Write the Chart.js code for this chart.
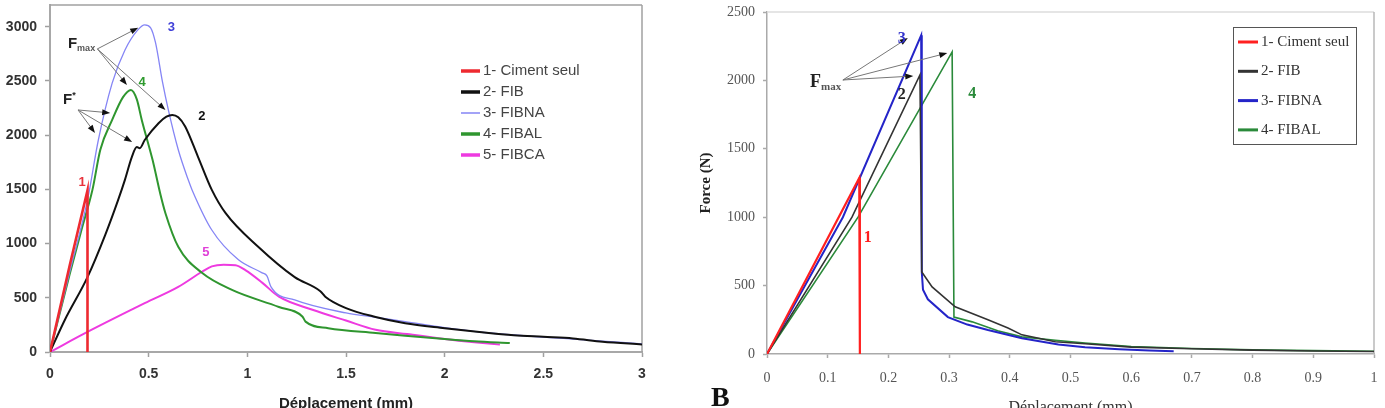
<!DOCTYPE html>
<html lang="fr">
<head>
<meta charset="UTF-8">
<title>Force - Déplacement</title>
<script src="https://cdn.jsdelivr.net/npm/chart.js"></script>
<style>
    body {
        margin: 0;
        width: 1385px;
        height: 408px;
        overflow: hidden;
        background: #fff;
        position: relative;
    }
    #gauche { position: absolute; left: 0; top: 0; width: 690px; height: 413px; }
    #droite { position: absolute; left: 690px; top: 0; width: 695px; height: 417px; }
    #lettreB {
        position: absolute; left: 711px; top: 383px;
        font: bold 28px "Liberation Serif", serif; line-height: 28px; color: #111;
    }
</style>
</head>
<body>

<div id="gauche"><canvas id="graphA"></canvas></div>
<div id="droite"><canvas id="graphB"></canvas></div>
<div id="lettreB">B</div>

<script>
// ---- Graphique de gauche (0 - 3 mm) ----
const gXTicks = [0, 0.5, 1, 1.5, 2, 2.5, 3];
const gYTicks = [0, 500, 1000, 1500, 2000, 2500, 3000];
const gNoms = ['1- Ciment seul', '2- FIB', '3- FIBNA', '4- FIBAL', '5- FIBCA'];

const cimentX = [0, 0.1, 0.19, 0.19];
const cimentY = [0, 800, 1490, 0];

const fibX = [0, 0.075, 0.19, 0.28, 0.345, 0.38, 0.415, 0.44, 0.455, 0.48, 0.55, 0.59, 0.62, 0.65, 0.685, 0.75, 0.82, 0.89, 1.055, 1.24, 1.37, 1.395, 1.5, 1.65, 1.8, 2.0, 2.2, 2.35, 2.5, 2.65, 2.8, 3.0];
const fibY = [0, 295, 690, 1080, 1400, 1590, 1800, 1890, 1880, 1955, 2110, 2170, 2186, 2165, 2080, 1800, 1495, 1280, 970, 690, 560, 510, 405, 323, 265, 220, 180, 155, 140, 125, 95, 70];

const fibnaX = [0, 0.1, 0.19, 0.245, 0.315, 0.38, 0.445, 0.48, 0.51, 0.535, 0.57, 0.6, 0.65, 0.7, 0.72, 0.82, 0.955, 1.075, 1.1, 1.12, 1.24, 1.5, 1.65, 1.8, 2.0, 2.2, 2.4, 2.6, 2.8, 3.0];
const fibnaY = [0, 740, 1400, 1955, 2480, 2785, 2970, 3017, 2990, 2850, 2490, 2230, 1865, 1590, 1495, 1125, 850, 730, 700, 600, 480, 360, 320, 280, 225, 180, 150, 125, 100, 75];

const fibalX = [0, 0.1, 0.16, 0.215, 0.255, 0.315, 0.37, 0.41, 0.44, 0.465, 0.52, 0.56, 0.585, 0.65, 0.77, 0.925, 1.16, 1.28, 1.295, 1.41, 1.65, 1.8, 2.0, 2.15, 2.33];
const fibalY = [0, 720, 1130, 1495, 1865, 2140, 2350, 2417, 2330, 2140, 1770, 1450, 1280, 970, 730, 570, 415, 325, 280, 220, 175, 150, 120, 100, 83];

const fibcaX = [0, 0.19, 0.48, 0.65, 0.77, 0.82, 0.88, 0.94, 0.99, 1.075, 1.16, 1.33, 1.5, 1.65, 1.81, 2.0, 2.15, 2.28];
const fibcaY = [0, 185, 450, 600, 740, 790, 805, 800, 755, 640, 510, 390, 290, 205, 165, 120, 90, 68];

// ---- Graphique de droite (0 - 1 mm) ----
const dXTicks = [0, 0.1, 0.2, 0.3, 0.4, 0.5, 0.6, 0.7, 0.8, 0.9, 1];
const dYTicks = [0, 500, 1000, 1500, 2000, 2500];
const dNoms = ['1- Ciment seul', '2- FIB', '3- FIBNA', '4- FIBAL'];

const cimentBX = [0, 0.152, 0.153];
const cimentBY = [0, 1287, 0];

const fibBX = [0, 0.14, 0.252, 0.255, 0.272, 0.31, 0.364, 0.397, 0.42, 0.475, 0.524, 0.6, 0.7, 0.8, 0.9, 1.0];
const fibBY = [0, 1000, 2040, 600, 490, 345, 250, 190, 140, 90, 75, 50, 38, 28, 22, 18];

const fibnaBX = [0, 0.125, 0.254, 0.255, 0.257, 0.265, 0.298, 0.33, 0.364, 0.42, 0.48, 0.524, 0.58, 0.63, 0.67];
const fibnaBY = [0, 1000, 2330, 600, 470, 400, 270, 215, 175, 115, 70, 50, 35, 25, 20];

const fibalBX = [0, 0.15, 0.305, 0.308, 0.338, 0.38, 0.42, 0.475, 0.524, 0.6, 0.7, 0.8, 0.9, 1.0];
const fibalBY = [0, 1000, 2208, 270, 235, 170, 125, 100, 80, 55, 40, 30, 25, 20];

// ---- Annotations (coordonnées en unités du graphique) ----
const gEtiquettes = [
    { t: '1', x: 0.163, y: 1560, c: '#e8323c' },
    { t: '2', x: 0.77, y: 2170, c: '#111' },
    { t: '3', x: 0.615, y: 2990, c: '#4040d8' },
    { t: '4', x: 0.467, y: 2490, c: '#2e9a2e' },
    { t: '5', x: 0.79, y: 920, c: '#e040d8' }
];
const gFleches = [
    [0.24, 2795, 0.447, 2990], [0.24, 2795, 0.39, 2463], [0.24, 2795, 0.585, 2232],
    [0.142, 2232, 0.305, 2205], [0.142, 2232, 0.228, 2020], [0.142, 2232, 0.416, 1937]
];
const gForces = [
    { t: 'F', s: 'max', x: 0.091, y: 2840, bas: true },
    { t: 'F', s: '*', x: 0.066, y: 2325, bas: false }
];

const dEtiquettes = [
    { t: '3', x: 0.222, y: 2302, c: '#3333cc' },
    { t: '2', x: 0.222, y: 1893, c: '#222' },
    { t: '4', x: 0.338, y: 1900, c: '#2a8a3a' },
    { t: '1', x: 0.166, y: 848, c: '#ff2020' }
];
const dFleches = [
    [0.125, 2003, 0.232, 2310], [0.125, 2003, 0.297, 2200], [0.125, 2003, 0.241, 2032]
];
const dForces = [
    { t: 'F', s: 'max', x: 0.071, y: 1988, bas: true }
];

function points(xs, ys) {
    return xs.map((x, i) => ({ x: x, y: ys[i] }));
}

// Légende dessinée dans la zone du graphique
function legende(o) {
    return {
        id: 'legende',
        afterDraw(chart) {
            const ctx = chart.ctx;
            ctx.save();
            if (o.boite) {
                ctx.strokeStyle = '#555';
                ctx.lineWidth = 1;
                ctx.strokeRect(o.boite[0] + 0.5, o.boite[1] + 0.5, o.boite[2], o.boite[3]);
            }
            ctx.font = o.police;
            ctx.textBaseline = 'middle';
            chart.data.datasets.forEach((ds, i) => {
                const y = o.y + i * o.pas;
                ctx.strokeStyle = ds.borderColor;
                ctx.lineWidth = ds.legendeTrait || 3;
                ctx.beginPath();
                ctx.moveTo(o.x, y);
                ctx.lineTo(o.x + o.long, y);
                ctx.stroke();
                ctx.fillStyle = o.couleur;
                ctx.fillText(ds.label, o.x + o.long + 3, y);
            });
            ctx.restore();
        }
    };
}

// Cadre, flèches et étiquettes
function notes(o) {
    return {
        id: 'notes',
        beforeDatasetsDraw(chart) {
            const { ctx, chartArea: a } = chart;
            ctx.save();
            ctx.lineWidth = 1.5;
            ctx.strokeStyle = o.cadreHaut;
            ctx.beginPath(); ctx.moveTo(a.left, a.top); ctx.lineTo(a.right, a.top); ctx.stroke();
            ctx.strokeStyle = o.cadreDroit;
            ctx.beginPath(); ctx.moveTo(a.right, a.top); ctx.lineTo(a.right, a.bottom); ctx.stroke();
            ctx.restore();
        },
        afterDatasetsDraw(chart) {
            const { ctx, scales: { x, y } } = chart;
            ctx.save();
            o.fleches.forEach(f => {
                const x1 = x.getPixelForValue(f[0]), y1 = y.getPixelForValue(f[1]);
                const x2 = x.getPixelForValue(f[2]), y2 = y.getPixelForValue(f[3]);
                const ang = Math.atan2(y2 - y1, x2 - x1);
                ctx.strokeStyle = '#777';
                ctx.lineWidth = 1;
                ctx.beginPath(); ctx.moveTo(x1, y1);
                ctx.lineTo(x2 - 5 * Math.cos(ang), y2 - 5 * Math.sin(ang)); ctx.stroke();
                ctx.fillStyle = '#111';
                ctx.beginPath();
                ctx.moveTo(x2, y2);
                ctx.lineTo(x2 - 8 * Math.cos(ang) + 3 * Math.sin(ang), y2 - 8 * Math.sin(ang) - 3 * Math.cos(ang));
                ctx.lineTo(x2 - 8 * Math.cos(ang) - 3 * Math.sin(ang), y2 - 8 * Math.sin(ang) + 3 * Math.cos(ang));
                ctx.closePath(); ctx.fill();
            });
            ctx.textBaseline = 'middle';
            ctx.textAlign = 'center';
            ctx.font = o.policeNum;
            o.etiquettes.forEach(e => {
                ctx.fillStyle = e.c;
                ctx.fillText(e.t, x.getPixelForValue(e.x), y.getPixelForValue(e.y));
            });
            ctx.textAlign = 'left';
            o.forces.forEach(f => {
                const px = x.getPixelForValue(f.x), py = y.getPixelForValue(f.y);
                ctx.fillStyle = '#222';
                ctx.font = o.policeF;
                ctx.fillText(f.t, px, py);
                const w = ctx.measureText(f.t).width;
                ctx.font = o.policeSub;
                ctx.fillStyle = f.bas ? '#555' : '#222';
                ctx.fillText(f.s, px + w, py + (f.bas ? o.decal : -4));
            });
            ctx.restore();
        }
    };
}

document.addEventListener('DOMContentLoaded', function () {
    Chart.defaults.animation = false;
    Chart.defaults.font.family = '"Liberation Sans", Arial, sans-serif';

    const sans = '"Liberation Sans", Arial, sans-serif';
    const serif = '"Liberation Serif", "Times New Roman", serif';

    // ---------- A ----------
    const serieA = (nom, xs, ys, coul, ep, lisse) => ({
        label: nom, data: points(xs, ys), borderColor: coul, backgroundColor: coul,
        borderWidth: ep, pointRadius: 0, showLine: true, fill: false,
        tension: 0, cubicInterpolationMode: lisse ? 'monotone' : 'default',
        legendeTrait: ep < 1.5 ? 1.5 : 3.5
    });

    new Chart(document.getElementById('graphA'), {
        type: 'scatter',
        data: {
            datasets: [
                serieA(gNoms[0], cimentX, cimentY, '#ee2a30', 2.6, false),
                serieA(gNoms[1], fibX, fibY, '#111111', 2, true),
                serieA(gNoms[2], fibnaX, fibnaY, '#8585f5', 1.3, true),
                serieA(gNoms[3], fibalX, fibalY, '#2f962f', 2, true),
                serieA(gNoms[4], fibcaX, fibcaY, '#ee3ae0', 2, true)
            ]
        },
        options: {
            responsive: true,
            maintainAspectRatio: false,
            layout: { padding: { top: 5, right: 48, left: 0, bottom: 0 } },
            plugins: { legend: { display: false }, tooltip: { enabled: false } },
            scales: {
                x: {
                    type: 'linear', min: 0, max: 3,
                    afterBuildTicks: s => { s.ticks = gXTicks.map(v => ({ value: v })); },
                    afterFit: s => { s.height = 61; s.paddingLeft = 0; s.paddingRight = 0; },
                    ticks: { font: { family: sans, size: 14, weight: 'bold' }, color: '#333', padding: 9,
                             callback: v => String(v), maxRotation: 0 },
                    grid: { drawOnChartArea: false, tickLength: 5, color: '#a0a0a0', tickWidth: 1.5 },
                    border: { color: '#a8a8a8', width: 2 },
                    title: { display: true, text: 'Déplacement (mm)', color: '#222',
                             font: { family: sans, size: 15, weight: 'bold' }, padding: { top: 0, bottom: 0 } }
                },
                y: {
                    type: 'linear', min: 0, max: 3200,
                    afterBuildTicks: s => { s.ticks = gYTicks.map(v => ({ value: v })); },
                    afterFit: s => { s.width = 50; s.paddingTop = 0; s.paddingBottom = 0; },
                    ticks: { font: { family: sans, size: 14, weight: 'bold' }, color: '#333', padding: 8,
                             callback: v => String(v) },
                    grid: { drawOnChartArea: false, tickLength: 5, color: '#a0a0a0', tickWidth: 1.5 },
                    border: { color: '#a8a8a8', width: 2 },
                    title: { display: true, text: 'Force (N)', color: '#222',
                             font: { family: sans, size: 15, weight: 'bold' }, padding: { top: -16, bottom: 0 } }
                }
            }
        },
        plugins: [
            notes({ fleches: gFleches, etiquettes: gEtiquettes, forces: gForces,
                    policeNum: 'bold 13px ' + sans, policeF: 'bold 15px ' + sans,
                    policeSub: 'bold 9px ' + sans, decal: 4,
                    cadreHaut: '#a0a0a0', cadreDroit: '#a0a0a0' }),
            legende({ x: 461, y: 71, pas: 21, long: 19, police: '15px ' + sans, couleur: '#444' })
        ]
    });

    // ---------- B ----------
    const serieB = (nom, xs, ys, coul, ep) => ({
        label: nom, data: points(xs, ys), borderColor: coul, backgroundColor: coul,
        borderWidth: ep, pointRadius: 0, showLine: true, fill: false, tension: 0,
        legendeTrait: 3
    });

    new Chart(document.getElementById('graphB'), {
        type: 'scatter',
        data: {
            datasets: [
                serieB(dNoms[0], cimentBX, cimentBY, '#ff2020', 2.2),
                serieB(dNoms[1], fibBX, fibBY, '#333333', 1.6),
                serieB(dNoms[2], fibnaBX, fibnaBY, '#2424c8', 2),
                serieB(dNoms[3], fibalBX, fibalBY, '#2a8a3a', 1.6)
            ]
        },
        options: {
            responsive: true,
            maintainAspectRatio: false,
            layout: { padding: { top: 12, right: 11, left: 0, bottom: 0 } },
            plugins: { legend: { display: false }, tooltip: { enabled: false } },
            scales: {
                x: {
                    type: 'linear', min: 0, max: 1,
                    afterBuildTicks: s => { s.ticks = dXTicks.map(v => ({ value: v })); },
                    afterFit: s => { s.height = 63; s.paddingLeft = 0; s.paddingRight = 0; },
                    ticks: { font: { family: serif, size: 14 }, color: '#555', padding: 12,
                             callback: v => String(v), maxRotation: 0 },
                    grid: { drawOnChartArea: false, tickLength: 4, color: '#aaa', tickWidth: 1.5 },
                    border: { color: '#aaa', width: 1.5 },
                    title: { display: true, text: 'Déplacement (mm)', color: '#333',
                             font: { family: serif, size: 16 }, padding: { top: 0, bottom: 0 } }
                },
                y: {
                    type: 'linear', min: 0, max: 2500,
                    afterBuildTicks: s => { s.ticks = dYTicks.map(v => ({ value: v })); },
                    afterFit: s => { s.width = 77; s.paddingTop = 0; s.paddingBottom = 0; },
                    ticks: { font: { family: serif, size: 14 }, color: '#555', padding: 8,
                             callback: v => String(v) },
                    grid: { drawOnChartArea: false, tickLength: 4, color: '#aaa', tickWidth: 1.5 },
                    border: { color: '#aaa', width: 1.5 },
                    title: { display: true, text: 'Force (N)', color: '#222',
                             font: { family: serif, size: 15, weight: 'bold' }, padding: { top: 7, bottom: 0 } }
                }
            }
        },
        plugins: [
            notes({ fleches: dFleches, etiquettes: dEtiquettes, forces: dForces,
                    policeNum: 'bold 16px ' + serif, policeF: 'bold 18px ' + serif,
                    policeSub: 'bold 11px ' + serif, decal: 5,
                    cadreHaut: '#dcdcdc', cadreDroit: '#b8b8b8' }),
            legende({ x: 548, y: 42, pas: 29.3, long: 20, police: '15px ' + serif, couleur: '#333',
                      boite: [543, 27, 123, 117] })
        ]
    });
});
</script>

</body>
</html>
